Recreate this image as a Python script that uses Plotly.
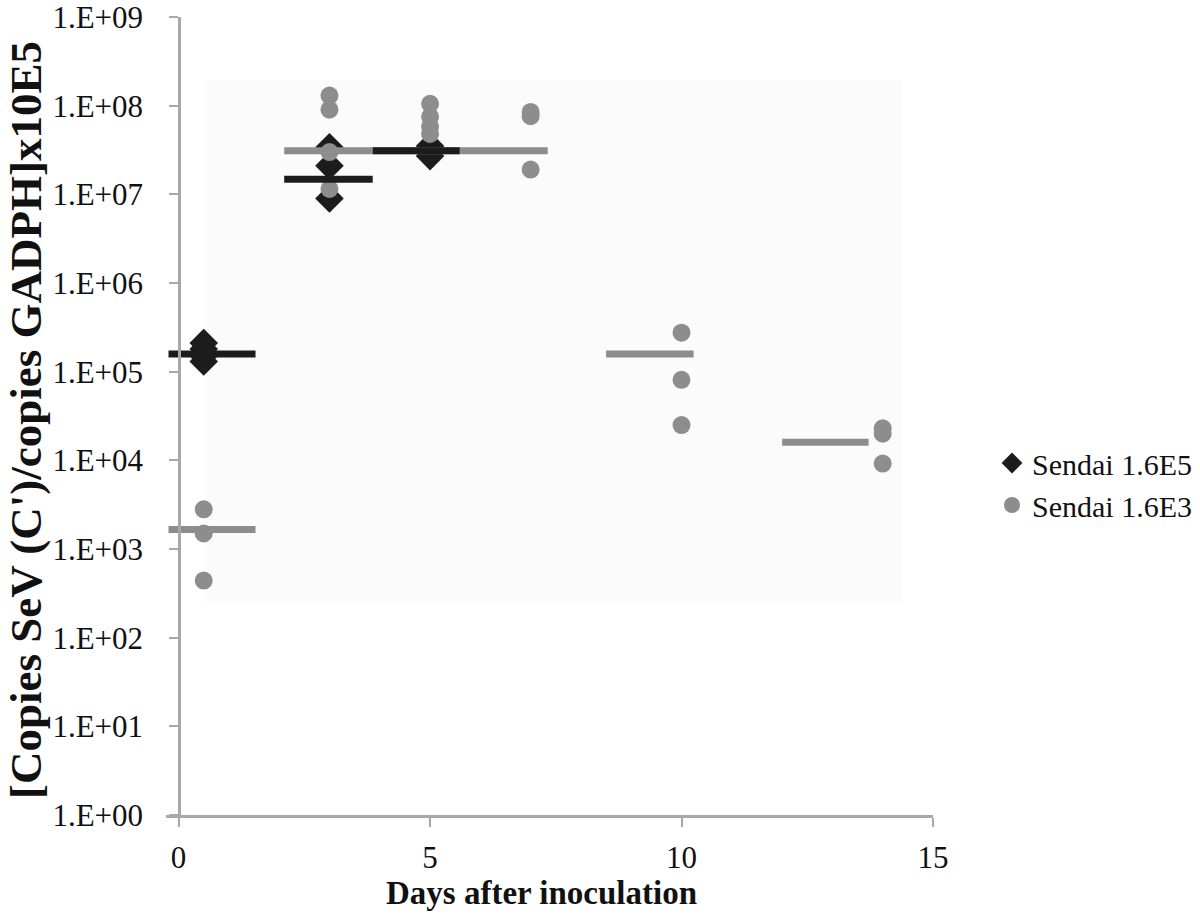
import plotly.graph_objects as go

# --- data ---
# Sendai 1.6E5 (black diamonds)
hi_days = [0.5, 0.5, 0.5, 0.5, 3, 3, 3, 5, 5, 5]
hi_copies = [2.1e5, 1.8e5, 1.5e5, 1.3e5, 3.4e7, 2.1e7, 9.0e6, 3.5e7, 3.0e7, 2.7e7]

# Sendai 1.6E3 (grey circles)
lo_days = [0.5, 0.5, 0.5, 3, 3, 3, 3, 5, 5, 5, 5, 7, 7, 7, 10, 10, 10, 14, 14, 14]
lo_copies = [2.8e3, 1.5e3, 4.4e2,
             1.3e8, 9.0e7, 3.0e7, 1.15e7,
             1.05e8, 7.5e7, 5.8e7, 4.8e7,
             8.5e7, 7.6e7, 1.9e7,
             2.75e5, 8.1e4, 2.5e4,
             2.3e4, 2.0e4, 9.2e3]

# mean bars (start day, end day, level)
hi_mean_start = [-0.2, 2.1, 3.86]
hi_mean_end = [1.53, 3.86, 5.59]
hi_mean = [1.58e5, 1.48e7, 3.1e7]

lo_mean_start = [-0.2, 2.1, 3.86, 5.59, 8.5, 12.0]
lo_mean_end = [1.53, 3.86, 5.59, 7.34, 10.24, 13.72]
lo_mean = [1.66e3, 3.1e7, 3.1e7, 3.1e7, 1.58e5, 1.6e4]

y_tickvals = [1e0, 1e1, 1e2, 1e3, 1e4, 1e5, 1e6, 1e7, 1e8, 1e9]
y_ticktext = ["1.E+00", "1.E+01", "1.E+02", "1.E+03", "1.E+04",
              "1.E+05", "1.E+06", "1.E+07", "1.E+08", "1.E+09"]
x_tickvals = [0, 5, 10, 15]

BLACK = "#1c1c1c"
GREY = "#8d8d8d"
AXIS = "#a8a8a8"
FONT = "Liberation Serif"


def segments(starts, ends, levels):
    xs, ys = [], []
    for a, b, v in zip(starts, ends, levels):
        xs += [a, b, None]
        ys += [v, v, None]
    return xs, ys


fig = go.Figure()

fig.add_trace(go.Scatter(x=hi_days, y=hi_copies, mode="markers", name="Sendai 1.6E5",
                         marker=dict(symbol="diamond", size=22, color=BLACK)))
fig.add_trace(go.Scatter(x=lo_days, y=lo_copies, mode="markers", name="Sendai 1.6E3",
                         marker=dict(symbol="circle", size=18, color=GREY)))

gx, gy = segments(lo_mean_start, lo_mean_end, lo_mean)
fig.add_trace(go.Scatter(x=gx, y=gy, mode="lines", showlegend=False,
                         line=dict(color=GREY, width=7), hoverinfo="skip"))
bx, by = segments(hi_mean_start, hi_mean_end, hi_mean)
fig.add_trace(go.Scatter(x=bx, y=by, mode="lines", showlegend=False,
                         line=dict(color=BLACK, width=7), hoverinfo="skip"))

# faint plot-area fill seen in the reference
fig.add_shape(type="rect", xref="x", yref="y", x0=0.52, x1=14.37, y0=10**2.39, y1=10**8.29,
              fillcolor="#fbfbfb", line=dict(width=0), layer="below")

# axis titles as annotations so they can sit where the reference has them
fig.add_annotation(text="<b>Days after inoculation</b>", xref="paper", yref="paper",
                   x=(541 - 166) / 767, y=(815 - 893) / 798, xanchor="center", yanchor="middle",
                   showarrow=False, font=dict(size=33, family=FONT, color="#111111"))
fig.add_annotation(text="<b>[Copies SeV (C')/copies GADPH]x10E5</b>", xref="paper", yref="paper",
                   x=(26 - 166) / 767, y=0.495, xanchor="center", yanchor="middle", textangle=-90,
                   showarrow=False, font=dict(size=45, family=FONT, color="#111111"))

fig.update_layout(
    width=1200, height=920,
    paper_bgcolor="white", plot_bgcolor="white",
    margin=dict(l=166, r=267, t=17, b=105, autoexpand=False),
    font=dict(family=FONT, color="#111111", size=30),
    legend=dict(x=(992 - 166) / 767, y=(815 - 484) / 798, xanchor="left", yanchor="middle",
                font=dict(size=30, family=FONT), bgcolor="rgba(0,0,0,0)"),
)

fig.update_xaxes(range=[-0.25, 15], tickvals=x_tickvals, showgrid=False, zeroline=False,
                 showline=True, linecolor=AXIS, linewidth=2.5, automargin=False,
                 ticks="outside", ticklen=9, tickwidth=2, tickcolor=AXIS,
                 ticklabelstandoff=4, ticklabeloverflow="allow",
                 tickfont=dict(size=31, family=FONT))

fig.update_yaxes(type="log", range=[0, 9], tickvals=y_tickvals, ticktext=y_ticktext,
                 anchor="free", position=13 / 767, automargin=False,
                 showgrid=False, zeroline=False,
                 showline=True, linecolor=AXIS, linewidth=2.5,
                 ticks="outside", ticklen=9, tickwidth=2, tickcolor=AXIS,
                 ticklabelstandoff=20, ticklabeloverflow="allow",
                 tickfont=dict(size=31, family=FONT))

# page body has an 8px default margin; drop it so the figure sits at 0,0
fig.write_html("out.html", config={"displayModeBar": False},
               post_script="document.body.style.margin='0';")
